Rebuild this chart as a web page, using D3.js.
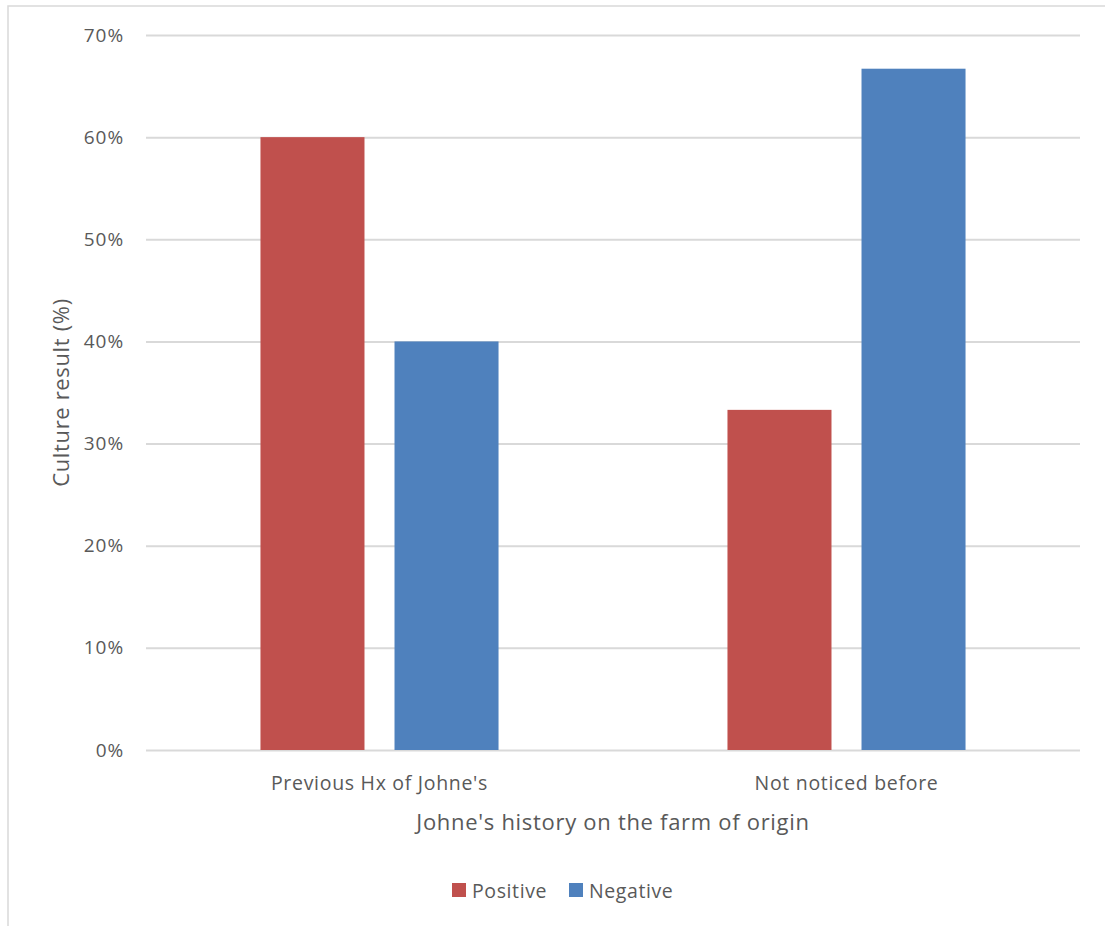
<!DOCTYPE html>
<html>
<head>
<meta charset="utf-8">
<script src="https://cdn.jsdelivr.net/npm/d3@7"></script>
<style>
  html, body { margin: 0; padding: 0; background: #fff; }
  svg { display: block; }
  text { font-family: "Open Sans", Lato, sans-serif; fill: #595959; }
</style>
</head>
<body>
<svg id="chart" width="1105" height="926"></svg>
<script>
// Culture results grouped by Johne's history on the farm of origin
const categories = ["Previous Hx of Johne's", "Not noticed before"];
const seriesNames = ["Positive", "Negative"];
const positiveValues = [60.0, 33.3];
const negativeValues = [40.0, 66.7];
const yTicks = [0, 10, 20, 30, 40, 50, 60, 70];
const seriesColors = ["#C0504D", "#4F81BD"];

const rows = categories.map((c, i) => ({
  category: c,
  values: [
    { series: seriesNames[0], value: positiveValues[i] },
    { series: seriesNames[1], value: negativeValues[i] }
  ]
}));

const FONT = "'Open Sans', Lato, sans-serif";
const svg = d3.select("#chart");
const margin = { left: 146, right: 25, top: 35, bottom: 176 };
const W = 1105, H = 926;
const plotW = W - margin.left - margin.right;
const plotH = H - margin.top - margin.bottom;

// chart frame
svg.append("rect")
  .attr("x", 8).attr("y", 6)
  .attr("width", W + 10).attr("height", H + 10)
  .attr("fill", "#fff").attr("stroke", "#d9d9d9").attr("stroke-width", 1.5);

const g = svg.append("g").attr("transform", `translate(${margin.left},${margin.top})`);

const y = d3.scaleLinear().domain([0, 70]).range([plotH, 0]);
const x0 = d3.scaleBand().domain(categories).range([0, plotW]).padding(0);
const x1 = d3.scaleBand().domain(seriesNames).range([0, x0.bandwidth()])
  .paddingInner(0.224).paddingOuter(0.854);
const color = d3.scaleOrdinal().domain(seriesNames).range(seriesColors);

// gridlines and y labels
const yAxis = d3.axisLeft(y).tickValues(yTicks).tickSize(-plotW).tickPadding(22)
  .tickFormat(d => d + "%");
const ya = g.append("g").call(yAxis);
ya.select(".domain").remove();
ya.selectAll(".tick line").attr("stroke", "#d9d9d9").attr("stroke-width", 2);
ya.selectAll(".tick text").attr("font-size", 19).attr("fill", "#595959")
  .attr("letter-spacing", 0.9).style("font-family", FONT);

// bars
const grp = g.selectAll(".cat").data(rows).join("g")
  .attr("transform", d => `translate(${x0(d.category)},0)`);
grp.selectAll("rect").data(d => d.values).join("rect")
  .attr("x", d => x1(d.series))
  .attr("y", d => y(d.value))
  .attr("width", x1.bandwidth())
  .attr("height", d => plotH - y(d.value))
  .attr("fill", d => color(d.series));

// x axis (category labels only)
const xAxis = d3.axisBottom(x0).tickSize(0).tickPadding(40);
const xa = g.append("g").attr("transform", `translate(0,${plotH})`).call(xAxis);
xa.select(".domain").remove();
xa.selectAll(".tick text").attr("font-size", 19.5).attr("fill", "#595959")
  .attr("dy", 0).attr("letter-spacing", 0.7).style("font-family", FONT);

// axis titles
svg.append("text")
  .attr("x", margin.left + plotW / 2).attr("y", 830)
  .attr("text-anchor", "middle").attr("font-size", 22).attr("letter-spacing", 0.7)
  .text("Johne's history on the farm of origin");
svg.append("text")
  .attr("transform", `translate(69,${margin.top + plotH / 2}) rotate(-90)`)
  .attr("text-anchor", "middle").attr("font-size", 22).attr("letter-spacing", 0.65)
  .text("Culture result (%)");

// legend
const legendX = [452, 569];
const leg = svg.append("g").selectAll("g").data(seriesNames).join("g")
  .attr("transform", (d, i) => `translate(${legendX[i]},883)`);
leg.append("rect").attr("width", 14).attr("height", 14).attr("fill", d => color(d));
leg.append("text").attr("x", 20).attr("y", 15).attr("font-size", 19.5)
  .attr("letter-spacing", 0.6).text(d => d);
</script>
</body>
</html>
